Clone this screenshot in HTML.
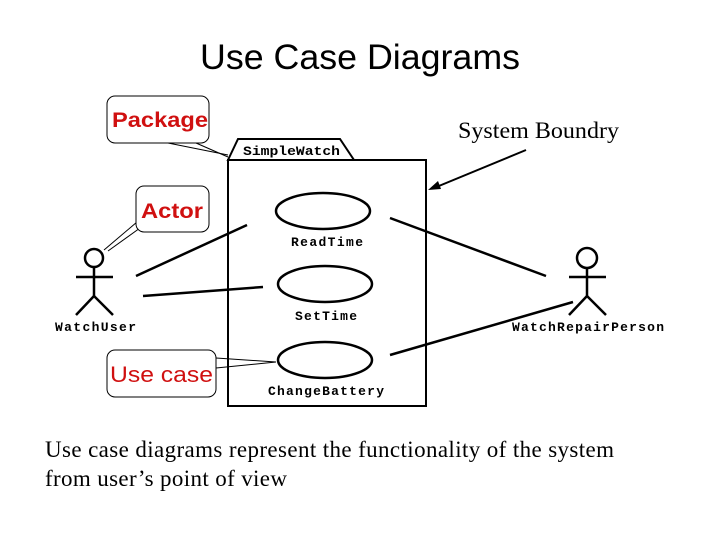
<!DOCTYPE html>
<html><head><style>body{margin:0;background:#fff}svg{display:block}</style></head><body>
<svg width="720" height="540" xmlns="http://www.w3.org/2000/svg">
<rect width="720" height="540" fill="#fff"/>
<text x="200" y="69" font-family="Liberation Sans, sans-serif" font-size="35" textLength="320" lengthAdjust="spacingAndGlyphs">Use Case Diagrams</text>
<!-- package callout -->
<line x1="196" y1="143" x2="228" y2="157" stroke="#000" stroke-width="1"/>
<line x1="168" y1="143" x2="228" y2="155" stroke="#000" stroke-width="1"/>
<rect x="107" y="96" width="102" height="47" rx="8" fill="#fff" stroke="#000" stroke-width="1"/>
<text x="112" y="127" font-family="Liberation Sans, sans-serif" font-weight="bold" font-size="21" fill="#d01010" textLength="96" lengthAdjust="spacingAndGlyphs">Package</text>
<!-- package -->
<polygon points="228,160 238,139 340,139 354,160" fill="#fff" stroke="#000" stroke-width="2"/>
<text x="243" y="155" font-family="Liberation Mono, monospace" font-weight="bold" font-size="13" textLength="97" lengthAdjust="spacingAndGlyphs">SimpleWatch</text>
<rect x="228" y="160" width="198" height="246" fill="none" stroke="#000" stroke-width="2"/>
<text x="458" y="138" font-family="Liberation Serif, serif" font-size="23" textLength="161" lengthAdjust="spacingAndGlyphs">System Boundry</text>
<line x1="526" y1="150" x2="434" y2="188" stroke="#000" stroke-width="2"/>
<polygon points="428,190 438,181 441,189" fill="#000"/>
<!-- actor callout -->
<line x1="137" y1="222" x2="104" y2="250" stroke="#000" stroke-width="1"/>
<line x1="140" y1="228" x2="108" y2="251" stroke="#000" stroke-width="1"/>
<rect x="136" y="186" width="73" height="46" rx="8" fill="#fff" stroke="#000" stroke-width="1"/>
<text x="141" y="218" font-family="Liberation Sans, sans-serif" font-weight="bold" font-size="21" fill="#d01010" textLength="62" lengthAdjust="spacingAndGlyphs">Actor</text>
<!-- use cases -->
<g fill="none" stroke="#000" stroke-width="2.5">
<ellipse cx="323" cy="211" rx="47" ry="18"/>
<ellipse cx="325" cy="284" rx="47" ry="18"/>
<ellipse cx="325" cy="360" rx="47" ry="18"/>
</g>
<g font-family="Liberation Mono, monospace" font-weight="bold" font-size="13" lengthAdjust="spacingAndGlyphs">
<text x="291" y="246" textLength="72">ReadTime</text>
<text x="295" y="320" textLength="62">SetTime</text>
<text x="268" y="395" textLength="116">ChangeBattery</text>
<text x="55" y="331" textLength="81">WatchUser</text>
<text x="512" y="331" textLength="152">WatchRepairPerson</text>
</g>
<!-- actors -->
<g fill="none" stroke="#000" stroke-width="2.5">
<circle cx="94" cy="258" r="9"/>
<line x1="94" y1="267" x2="94" y2="296"/><line x1="76" y1="277" x2="113" y2="277"/>
<line x1="94" y1="296" x2="76" y2="315"/><line x1="94" y1="296" x2="113" y2="315"/>
<circle cx="587" cy="258" r="10"/>
<line x1="587" y1="268" x2="587" y2="296"/><line x1="569" y1="277" x2="606" y2="277"/>
<line x1="587" y1="296" x2="569" y2="315"/><line x1="587" y1="296" x2="606" y2="315"/>
<line x1="136" y1="276" x2="247" y2="225"/>
<line x1="143" y1="296" x2="263" y2="287"/>
<line x1="390" y1="218" x2="546" y2="276"/>
<line x1="390" y1="355" x2="573" y2="302"/>
</g>
<!-- use case callout -->
<line x1="216" y1="358" x2="276" y2="362" stroke="#000" stroke-width="1"/>
<line x1="216" y1="368" x2="276" y2="362" stroke="#000" stroke-width="1"/>
<rect x="107" y="350" width="109" height="47" rx="8" fill="#fff" stroke="#000" stroke-width="1"/>
<text x="110" y="382" font-family="Liberation Sans, sans-serif" font-size="22" fill="#d01010" textLength="103" lengthAdjust="spacingAndGlyphs">Use case</text>
<g font-family="Liberation Serif, serif" font-size="23" lengthAdjust="spacingAndGlyphs">
<text x="45" y="457" textLength="569">Use case diagrams represent the functionality of the system</text>
<text x="45" y="486" textLength="242">from user’s point of view</text>
</g>
</svg>
</body></html>
